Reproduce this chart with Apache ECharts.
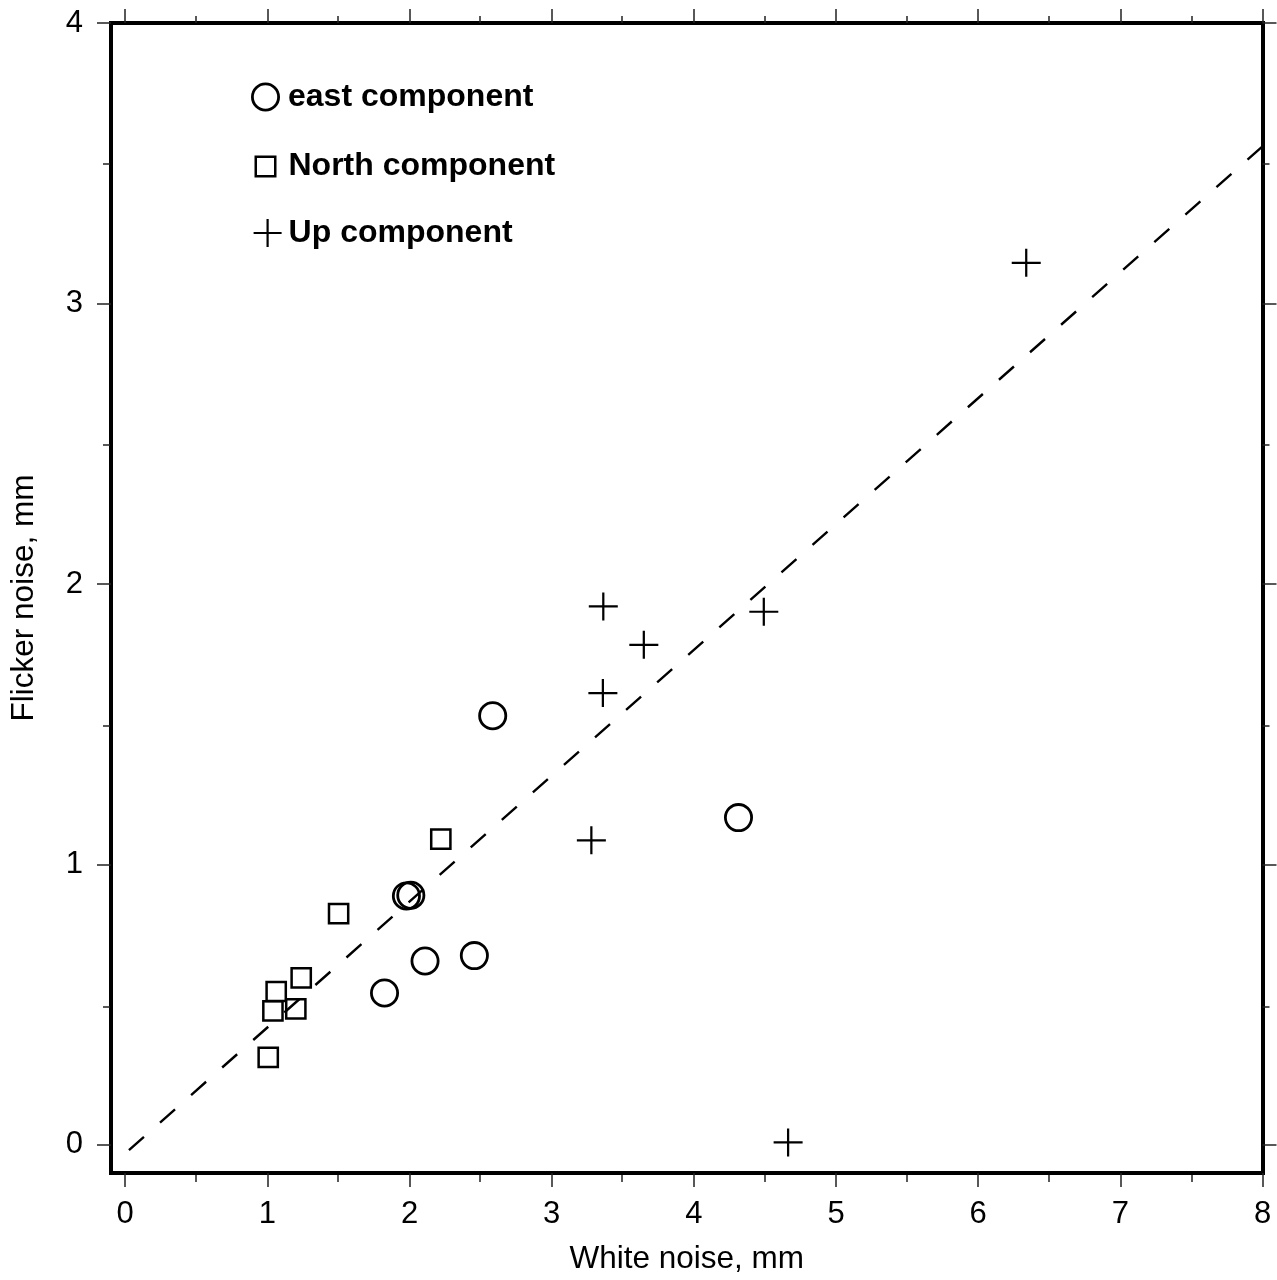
<!DOCTYPE html>
<html><head><meta charset="utf-8">
<script src="https://cdn.jsdelivr.net/npm/echarts@6/dist/echarts.min.js"></script>
<style>html,body{margin:0;padding:0;background:#fff}#c{width:1277px;height:1280px}</style>
</head><body><div id="c"></div>
<script>
const FONT = '"Liberation Sans", Arial, Helvetica, sans-serif';
const xRange = [-0.1, 8];
const yRange = [-0.1, 4];
const xMajorTicks = [0, 1, 2, 3, 4, 5, 6, 7, 8];
const xMinorTicks = [0.5, 1.5, 2.5, 3.5, 4.5, 5.5, 6.5, 7.5];
const yMajorTicks = [0, 1, 2, 3, 4];
const yMinorTicks = [0.5, 1.5, 2.5, 3.5];
const xTitle = 'White noise, mm';
const yTitle = 'Flicker noise, mm';
const seriesNames = ['east component', 'North component', 'Up component'];
const eastX = [2.585, 4.314, 1.978, 2.009, 2.109, 2.456, 1.824];
const eastY = [1.530, 1.167, 0.888, 0.890, 0.656, 0.675, 0.542];
const northX = [2.220, 1.501, 1.238, 1.062, 1.039, 1.200, 1.006];
const northY = [1.090, 0.825, 0.596, 0.547, 0.478, 0.485, 0.312];
const upX = [3.363, 3.648, 3.360, 4.492, 3.279, 6.338, 4.663];
const upY = [1.920, 1.783, 1.611, 1.901, 1.086, 3.145, 0.009];
const fitX = [8, 0];
const fitY = [3.56, -0.03];

const pairs = (xs, ys) => xs.map((x, i) => [x, ys[i]]);
const CROSS = 'path://M0,-1L0,1M-1,0L1,0';
const SQUARE = 'path://M0,0L1,0L1,1L0,1Z';
const HOLLOW = 'rgba(0,0,0,0)';
const gridRect = { left: 110, right: 14.5, top: 23, bottom: 105 };

function axis(kind, pos, gridIndex, ticks, len, opts) {
  const range = kind === 'x' ? xRange : yRange;
  const a = {
    type: 'value', gridIndex, position: pos, min: range[0], max: range[1],
    axisLine: { show: !!opts.line, onZero: false, lineStyle: { color: '#000', width: 4, cap: 'square' } },
    axisTick: { show: true, inside: false, length: len, customValues: ticks, lineStyle: { color: '#222', width: 1.5 } },
    axisLabel: { show: false },
    splitLine: { show: false },
    minorTick: { show: false },
    silent: true
  };
  if (opts.label) {
    a.axisLabel = {
      show: true, customValues: ticks, margin: opts.margin,
      color: '#000', fontSize: 31, fontFamily: FONT,
      formatter: v => String(v)
    };
  }
  if (opts.name) {
    a.name = opts.name;
    a.nameLocation = 'middle';
    a.nameGap = opts.nameGap;
    a.nameTextStyle = { color: '#000', fontSize: 31.5, fontFamily: FONT };
  }
  return a;
}

const legendText = { color: '#000', fontSize: 32, fontWeight: 'bold', fontFamily: FONT };
const markStyle = w => ({ color: HOLLOW, borderColor: '#000', borderWidth: w, opacity: 1 });

const option = {
  animation: false,
  backgroundColor: '#fff',
  grid: [Object.assign({}, gridRect), Object.assign({}, gridRect)],
  xAxis: [
    axis('x', 'bottom', 0, xMajorTicks, 14, { line: true, label: true, margin: 26, name: xTitle, nameGap: 70 }),
    axis('x', 'top', 0, xMajorTicks, 14, { line: true }),
    axis('x', 'bottom', 1, xMinorTicks, 7, {}),
    axis('x', 'top', 1, xMinorTicks, 7, {})
  ],
  yAxis: [
    axis('y', 'left', 0, yMajorTicks, 14, { line: true, label: true, margin: 28, name: yTitle, nameGap: 71 }),
    axis('y', 'right', 0, yMajorTicks, 14, { line: true }),
    axis('y', 'left', 1, yMinorTicks, 7, {}),
    axis('y', 'right', 1, yMinorTicks, 7, {})
  ],
  legend: [
    { data: [seriesNames[0]], left: 251, top: 81, orient: 'vertical', padding: 0, selectedMode: false,
      itemWidth: 35, itemHeight: 26.2, icon: 'circle', symbolKeepAspect: true,
      itemStyle: markStyle(2.8), textStyle: legendText },
    { data: [seriesNames[1]], left: 254.5, top: 150.5, orient: 'vertical', padding: 0, selectedMode: false,
      itemWidth: 36, itemHeight: 19.5, icon: SQUARE, symbolKeepAspect: true,
      itemStyle: markStyle(2.5), textStyle: legendText },
    { data: [seriesNames[2]], left: 252.5, top: 217, orient: 'vertical', padding: 0, selectedMode: false,
      itemWidth: 32, itemHeight: 28, icon: CROSS, symbolKeepAspect: true,
      itemStyle: markStyle(2.2), textStyle: legendText }
  ],
  series: [
    { name: 'fit', type: 'line', xAxisIndex: 0, yAxisIndex: 0, data: pairs(fitX, fitY),
      showSymbol: false, symbol: 'none', silent: true, z: 1,
      lineStyle: { color: '#000', width: 2.4, type: [20, 21.5], opacity: 1 } },
    { name: seriesNames[0], type: 'scatter', xAxisIndex: 0, yAxisIndex: 0, data: pairs(eastX, eastY),
      symbol: 'circle', symbolSize: 26.2, z: 3,
      itemStyle: markStyle(2.8), emphasis: { disabled: true } },
    { name: seriesNames[1], type: 'scatter', xAxisIndex: 0, yAxisIndex: 0, data: pairs(northX, northY),
      symbol: 'rect', symbolSize: 19.2, z: 3,
      itemStyle: markStyle(2.5), emphasis: { disabled: true } },
    { name: seriesNames[2], type: 'scatter', xAxisIndex: 0, yAxisIndex: 0, data: pairs(upX, upY),
      symbol: CROSS, symbolSize: [29, 28], z: 3,
      itemStyle: markStyle(2.2), emphasis: { disabled: true } }
  ]
};

const chart = echarts.init(document.getElementById('c'), null, { renderer: 'canvas' });
chart.setOption(option);
</script>
</body></html>
